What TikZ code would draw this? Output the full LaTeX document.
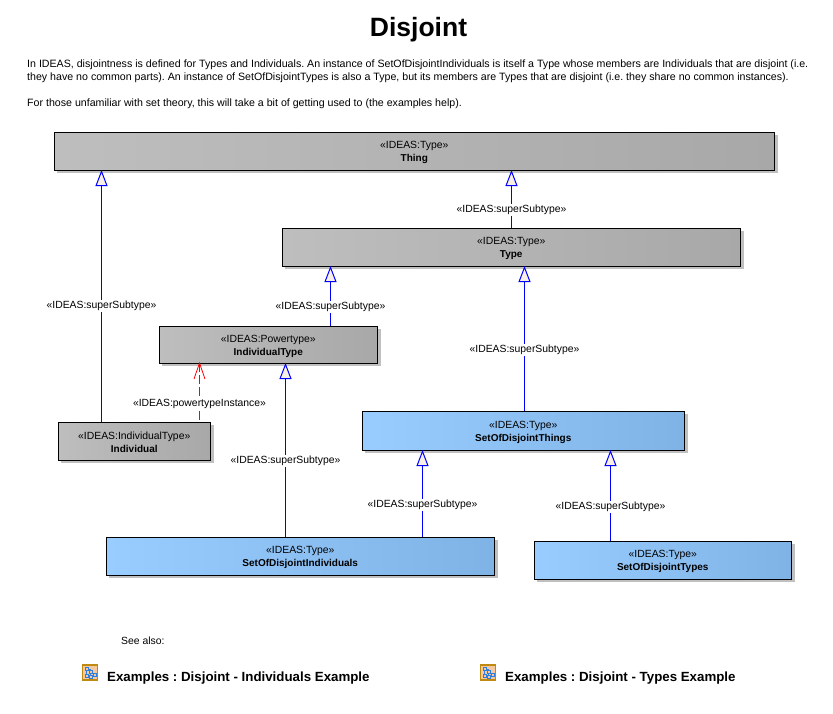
\documentclass[tikz,border=0pt]{standalone}
\usepackage{fontspec}
\setmainfont{Liberation Sans}
\usetikzlibrary{arrows.meta,calc}
\definecolor{grayL}{HTML}{BEBEBE}
\definecolor{grayR}{HTML}{A8A8A8}
\definecolor{blueL}{HTML}{99CCFF}
\definecolor{blueR}{HTML}{7FB2E5}
\definecolor{shadowc}{HTML}{C0C0C0}
\definecolor{tipfill}{HTML}{F8F0E6}
\definecolor{iconedge}{HTML}{C08A10}
\definecolor{iconfill}{HTML}{F4C8A0}
\definecolor{iconblue}{HTML}{2F7FE0}
\tikzset{
  x=1pt,y=-1pt,
  umlbox/.style={draw=black,line width=1pt,inner sep=0pt,outer sep=0pt,anchor=north west,align=center,font=\fontsize{10.4}{13}\selectfont},
  grayclass/.style={umlbox,left color=grayL,middle color=grayL,right color=grayR},
  blueclass/.style={umlbox,left color=blueL,middle color=blueL,right color=blueR},
  gen/.style={draw=blue,line width=1pt,{Triangle[open,length=16pt,width=12pt,fill=tipfill]}-},
  pinst/.style={draw=red,line width=1pt,dash pattern=on 9pt off 3pt},
  pinsthead/.style={draw=red,line width=.8pt},
  lab/.style={fill=white,inner sep=1pt,font=\fontsize{10.4}{12}\selectfont},
  para/.style={anchor=north west,inner sep=0pt,font=\fontsize{10.63}{13}\selectfont},
  link/.style={anchor=west,inner sep=0pt,font=\bfseries\fontsize{13.3}{16}\selectfont},
}
\newcommand{\umlnode}[8]{% name, style, x1, y1, x2, y2, stereotype, title
  \fill[shadowc] (#3+3,#4+3) rectangle (#5+3,#6+3);
  \node[#2,minimum width=#5-#3-.5,minimum height=#6-#4,text depth=0pt] (#1) at (#3,#4) {\raisebox{-1.6pt}{«IDEAS:#7»}\\\raisebox{-1.6pt}{\fontsize{10}{13}\selectfont\textbf{#8}}};
}
\newcommand{\linkicon}[3]{% name, x, y
  \node[draw=iconedge,line width=1.5pt,fill=iconfill,minimum size=15pt,inner sep=0pt] (#1) at (#2,#3) {};
  \draw[iconblue,line width=.9pt] (#2-5,#3-5) rectangle +(3,3) (#2-1,#3-2) rectangle +(3,3) (#2+3,#3+1) rectangle +(3,3) (#2-5,#3+2) rectangle +(3,3) (#2-1,#3+3) rectangle +(3,3)
     (#2-2,#3-3.5) -- (#2+.5,#3-3.5) -- (#2+.5,#3-2) (#2-3.5,#3-2) -- (#2-3.5,#3+2) (#2+.5,#3+1) -- (#2+.5,#3+3);
}
% connector: style, lower node, upper node, x, label y, label text, label name
\newcommand{\conn}[7]{%
  \coordinate (#7x) at (#4,0);
  \draw[#1] (#3.south -| #7x) -- (#2.north -| #7x);
  \node[lab] (#7) at (#4,#5+1.3) {«IDEAS:#6»};
}
\begin{document}
\frenchspacing
\begin{tikzpicture}
\useasboundingbox (0,0) rectangle (833,713);
\node[inner sep=0pt,font=\bfseries\fontsize{26.5}{30}\selectfont] (title) at (418.5,30) {Disjoint};
\node[para] (text) at (27,59.5) {\parbox[t]{800pt}{\raggedright In IDEAS, disjointness is defined for Types and Individuals. An instance of SetOfDisjointIndividuals is itself a Type whose members are Individuals that are disjoint (i.e.\\
they have no common parts). An instance of SetOfDisjointTypes is also a Type, but its members are Types that are disjoint (i.e. they share no common instances).\\[13pt]
For those unfamiliar with set theory, this will take a bit of getting used to (the examples help).}};

\umlnode{thing}{grayclass}{54}{132}{775}{170}{Type}{Thing}
\umlnode{type}{grayclass}{282}{228}{741}{266}{Type}{Type}
\umlnode{indtype}{grayclass}{159}{326}{378}{363}{Powertype}{IndividualType}
\umlnode{ind}{grayclass}{58}{422}{211}{460}{IndividualType}{Individual}
\umlnode{sdi}{blueclass}{106}{537}{495}{575}{Type}{SetOfDisjointIndividuals}
\umlnode{sdth}{blueclass}{362}{411}{685}{450}{Type}{SetOfDisjointThings}
\umlnode{sdty}{blueclass}{534}{541}{792}{579}{Type}{SetOfDisjointTypes}

\conn{gen}{ind}{thing}{101.5}{305}{superSubtype}{la}
\conn{gen}{type}{thing}{511.5}{209}{superSubtype}{lb}
\conn{gen}{indtype}{type}{330.5}{305.5}{superSubtype}{lc}
\conn{pinst}{ind}{indtype}{199.5}{403}{powertypeInstance}{ld}
\coordinate (ptip) at (indtype.south -| ldx);
\draw[pinsthead] ($(ptip)+(-5.5,16)$) -- (ptip) -- ($(ptip)+(5.5,16)$);
\conn{gen}{sdi}{indtype}{285.5}{460}{superSubtype}{le}
\conn{gen}{sdth}{type}{524.5}{349}{superSubtype}{lf}
\conn{gen}{sdi}{sdth}{422.5}{504}{superSubtype}{lg}
\conn{gen}{sdty}{sdth}{610.5}{506}{superSubtype}{lh}

\node[anchor=west,inner sep=0pt,font=\fontsize{10.4}{12}\selectfont] (see) at (121,641) {See also:};
\linkicon{iconA}{90}{672.5}
\node[link] (linkA) at (107,678) {Examples : Disjoint - Individuals Example};
\linkicon{iconB}{488}{672.5}
\node[link] (linkB) at (505,678) {Examples : Disjoint - Types Example};
\end{tikzpicture}
\end{document}
